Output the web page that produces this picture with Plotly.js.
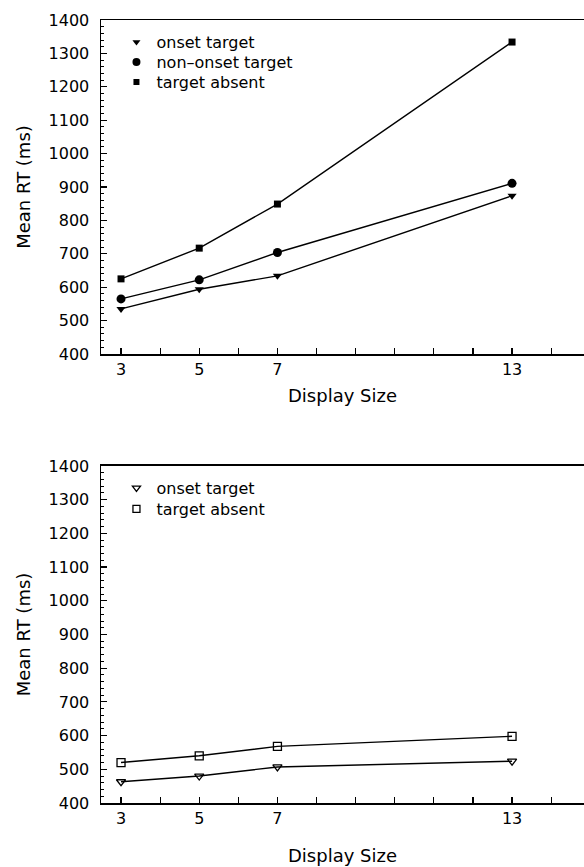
<!DOCTYPE html>
<html>
<head>
<meta charset="utf-8">
<script src="https://cdn.plot.ly/plotly-3.0.1.min.js"></script>
<style>html,body{margin:0;padding:0;background:#fff;}#chart{width:584px;height:867px;}</style>
</head>
<body>
<div id="chart"></div>
<script>
// Data
const displaySize = [3, 5, 7, 13];
// Top panel
const topOnset = [535, 594, 634, 874];
const topNonOnset = [565, 622, 704, 911];
const topAbsent = [625, 717, 849, 1334];
// Bottom panel
const botOnset = [463, 480, 507, 524];
const botAbsent = [520, 540, 568, 598];
// Series names
const topNames = ['onset target', 'non\u2013onset target', 'target absent'];
const botNames = ['onset target', 'target absent'];
// Tick labels
const xTickVals = [3, 4, 5, 6, 7, 8, 9, 10, 11, 12, 13, 14];
const xTickText = ['3', '', '5', '', '7', '', '', '', '', '', '13', ''];
const yTickVals = [400, 500, 600, 700, 800, 900, 1000, 1100, 1200, 1300, 1400];

const FONT = 'DejaVu Sans, sans-serif';
const line = {color: '#000', width: 1.4};

const topSeries = [
  {y: topOnset, name: topNames[0], marker: {symbol: 'triangle-down', size: 8, color: '#000'}},
  {y: topNonOnset, name: topNames[1], marker: {symbol: 'circle', size: 9, color: '#000'}},
  {y: topAbsent, name: topNames[2], marker: {symbol: 'square', size: 7, color: '#000'}}
];
const botSeries = [
  {y: botOnset, name: botNames[0], marker: {symbol: 'triangle-down-open', size: 8, color: '#000', line: {width: 1.3}}},
  {y: botAbsent, name: botNames[1], marker: {symbol: 'square-open', size: 8, color: '#000', line: {width: 1.3}}}
];

// one legend box per entry so that the row spacing matches the reference
const legendRowsPx = [42, 62, 82, 488, 509];
const legendIds = ['legend', 'legend2', 'legend3', 'legend4', 'legend5'];

const traces = [];
let li = 0;
function addSeries(list, xa, ya) {
  list.forEach(s => {
    traces.push({x: displaySize, y: s.y, name: s.name, mode: 'lines+markers', line: line,
      marker: s.marker, xaxis: xa, yaxis: ya, showlegend: false});
  });
  list.forEach(s => {
    // legend entry shows marker only, as in the reference
    traces.push({x: [null], y: [null], name: s.name, mode: 'markers',
      marker: Object.assign({}, s.marker, {size: s.marker.size - 1}), xaxis: xa, yaxis: ya,
      legend: legendIds[li++], showlegend: true});
  });
}
addSeries(topSeries, 'x', 'y');
addSeries(botSeries, 'x2', 'y2');

function xAxis(anchor, standoff) {
  return {
    anchor: anchor, domain: [0, 1], range: [2.488, 14.84],
    tickmode: 'array', tickvals: xTickVals, ticktext: xTickText,
    ticks: 'inside', ticklen: 6, tickwidth: 1.2, tickcolor: '#000',
    showline: true, linecolor: '#000', linewidth: 1.5, mirror: true,
    showgrid: false, zeroline: false,
    tickfont: {family: FONT, size: 16, color: '#000'},
    title: {text: 'Display Size', font: {family: FONT, size: 18, color: '#000'}, standoff: standoff}
  };
}
function yAxis(anchor, domain) {
  return {
    anchor: anchor, domain: domain, range: [400, 1400],
    tickmode: 'array', tickvals: yTickVals,
    ticks: 'inside', ticklen: 6, tickwidth: 1.2, tickcolor: '#000',
    minor: {tickmode: 'linear', dtick: 20, tick0: 400, ticks: 'inside', ticklen: 3, tickcolor: '#000', tickwidth: 1, showgrid: false},
    showline: true, linecolor: '#000', linewidth: 1.5, mirror: false,
    showgrid: false, zeroline: false,
    ticklabelstandoff: 7,
    tickfont: {family: FONT, size: 16, color: '#000'},
    title: {text: 'Mean RT (ms)', font: {family: FONT, size: 18, color: '#000'}, standoff: 13}
  };
}

const layout = {
  width: 584, height: 867,
  margin: {l: 101, r: 0, t: 20, b: 64},
  paper_bgcolor: '#fff', plot_bgcolor: '#fff',
  font: {family: FONT, color: '#000'},
  xaxis: xAxis('y', 11),
  yaxis: yAxis('x', [0.5734, 1]),
  xaxis2: xAxis('y2', 22),
  yaxis2: yAxis('x2', [0, 0.4304]),
  showlegend: true
};
legendIds.forEach((id, i) => {
  layout[id] = {x: 0.032, y: (803 - legendRowsPx[i]) / 783, xanchor: 'left', yanchor: 'middle',
    bgcolor: 'rgba(0,0,0,0)', font: {family: FONT, size: 16, color: '#000'}, itemwidth: 30};
});

Plotly.newPlot('chart', traces, layout, {displayModeBar: false, staticPlot: true});
</script>
</body>
</html>
